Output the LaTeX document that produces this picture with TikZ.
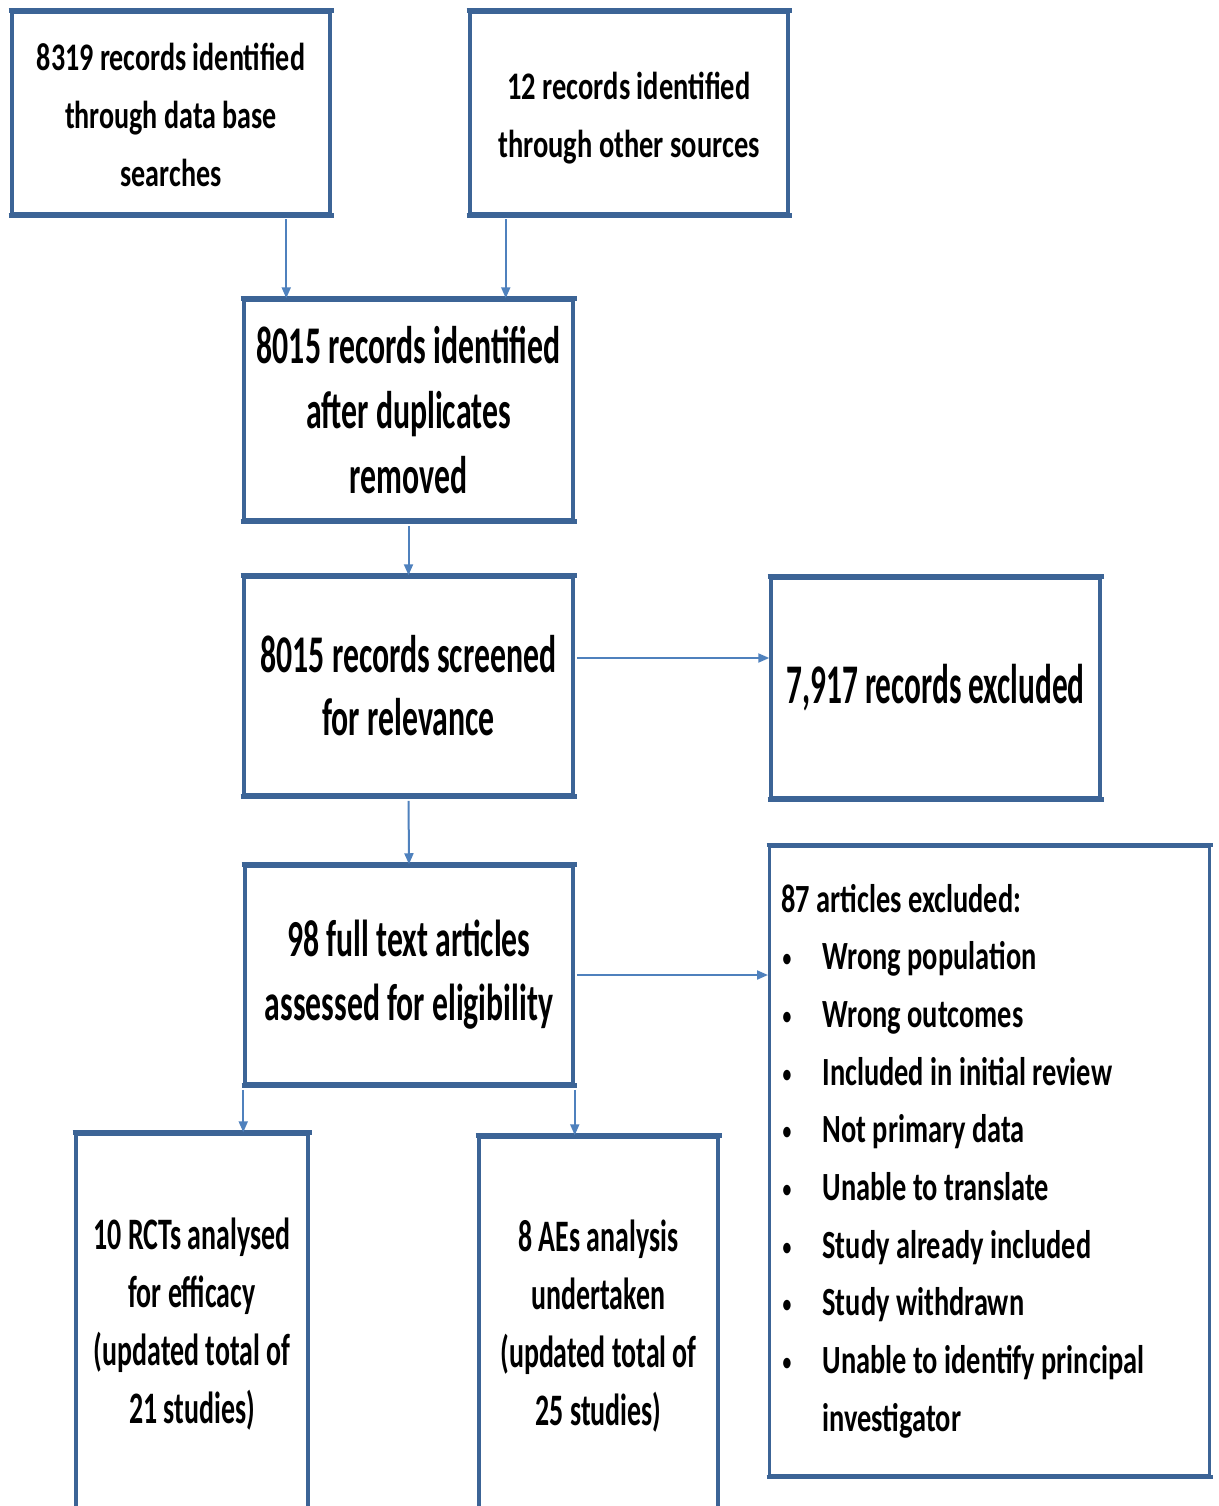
\documentclass[tikz,border=0pt]{standalone}
\usepackage{fontspec}
\setmainfont{Carlito}
\usetikzlibrary{arrows.meta}

\definecolor{edgeblue}{RGB}{60,100,150}
\definecolor{linkblue}{RGB}{79,129,189}

% size, line spacing, horizontal stretch
\newcommand\boxfont[3]{\fontsize{#1}{#2}\selectfont\bfseries\addfontfeatures{FakeStretch=#3}}
\newcommand\bul{\hspace*{1pt}\makebox[40pt][l]{\raisebox{3pt}{\scalebox{0.62}{\textbullet}}}}

\tikzset{
  box/.style={draw=edgeblue, line width=3.5pt, inner sep=0pt, align=flush center, fill=white},
  listbox/.style={draw=edgeblue, line width=3pt, inner xsep=12pt, align=flush left, fill=white},
  hedge/.style={draw=edgeblue, line width=5pt},
  flow/.style={draw=linkblue, line width=2pt, -{Triangle[length=11pt,width=9pt]}},
}

\begin{document}
\begin{tikzpicture}[x=1pt,y=-1pt]
\useasboundingbox (0,0) rectangle (1218,1506);
\clip (0,0) rectangle (1218,1506);
\fill[white] (0,0) rectangle (1218,1506);

% sources
\node[box, minimum width=318, minimum height=201, font=\boxfont{39}{58}{0.72}] (A) at (171,113)
  {\rule{0pt}{32pt}8319 records identified\\through data base\\searches};
\node[box, minimum width=318, minimum height=201, font=\boxfont{39}{58}{0.73}] (B) at (629,113)
  {\rule{0pt}{38pt}12 records identified\\through other sources};

% main column
\node[box, minimum width=329, minimum height=220, font=\boxfont{53}{65}{0.60}] (C) at (408.5,410)
  {8015 records identified\\after duplicates\\removed};
\node[box, minimum width=329, minimum height=218, font=\boxfont{53}{63}{0.60}] (D) at (408.5,686)
  {8015 records screened\\for relevance};
\node[box, minimum width=328, minimum height=218, font=\boxfont{52}{64}{0.61}] (F) at (409,975)
  {98 full text articles\\assessed for eligibility};

% exclusions
\node[box, minimum width=329, minimum height=219, font=\boxfont{56}{64}{0.56}] (E) at (935.5,688)
  {7,917 records excluded};
\node[listbox, text width=416, minimum height=629, font=\boxfont{40}{57.7}{0.71}] (G) at (989.5,1161)
  {87 articles excluded:\\
   \bul Wrong population\\
   \bul Wrong outcomes\\
   \bul Included in initial review\\
   \bul Not primary data\\
   \bul Unable to translate\\
   \bul Study already included\\
   \bul Study withdrawn\\
   \bul Unable to identify principal\\
   \hspace*{41pt}investigator};

% outcomes (run past the lower edge)
\node[box, minimum width=232, minimum height=380, font=\boxfont{45}{58}{0.62}] (H) at (192,1324)
  {10 RCTs analysed\\for efficacy\\(updated total of\\21 studies)};
\node[box, minimum width=239, minimum height=378, font=\boxfont{45}{58}{0.62}] (I) at (598.5,1326)
  {8 AEs analysis\\undertaken\\(updated total of\\25 studies)};

% heavier horizontal edges
\foreach \n in {A,B,C,D,E,F}{
  \draw[hedge] ([xshift=-1.75pt]\n.north west) -- ([xshift=1.75pt]\n.north east);
  \draw[hedge] ([xshift=-1.75pt]\n.south west) -- ([xshift=1.75pt]\n.south east);
}
\foreach \n in {H,I}{
  \draw[hedge] ([xshift=-1.75pt]\n.north west) -- ([xshift=1.75pt]\n.north east);
}
\draw[edgeblue, line width=4pt] ([xshift=-1.5pt]G.north west) -- ([xshift=1.5pt]G.north east);
\draw[edgeblue, line width=4pt] ([xshift=-1.5pt]G.south west) -- ([xshift=1.5pt]G.south east);

% connectors
\draw[flow, shorten <=4pt] ([xshift=44]C.north west |- A.south) -- ([xshift=44]C.north west);
\draw[flow, shorten <=4pt] ([xshift=-69]C.north east |- B.south) -- ([xshift=-69]C.north east);
\draw[flow, shorten <=4pt] (C.south) -- (D.north);
\draw[flow, shorten <=4pt] (D.south) -- (F.north);
\draw[flow, shorten <=2pt] ([yshift=28]D.east) -- ([yshift=28]D.east -| E.west);
\draw[flow, shorten <=2pt] (F.east) -- (F.east -| G.west);
\draw[flow, shorten <=4pt] (F.south west) -- (F.south west |- H.north);
\draw[flow, shorten <=4pt] (F.south east) -- (F.south east |- I.north);
\end{tikzpicture}
\end{document}
